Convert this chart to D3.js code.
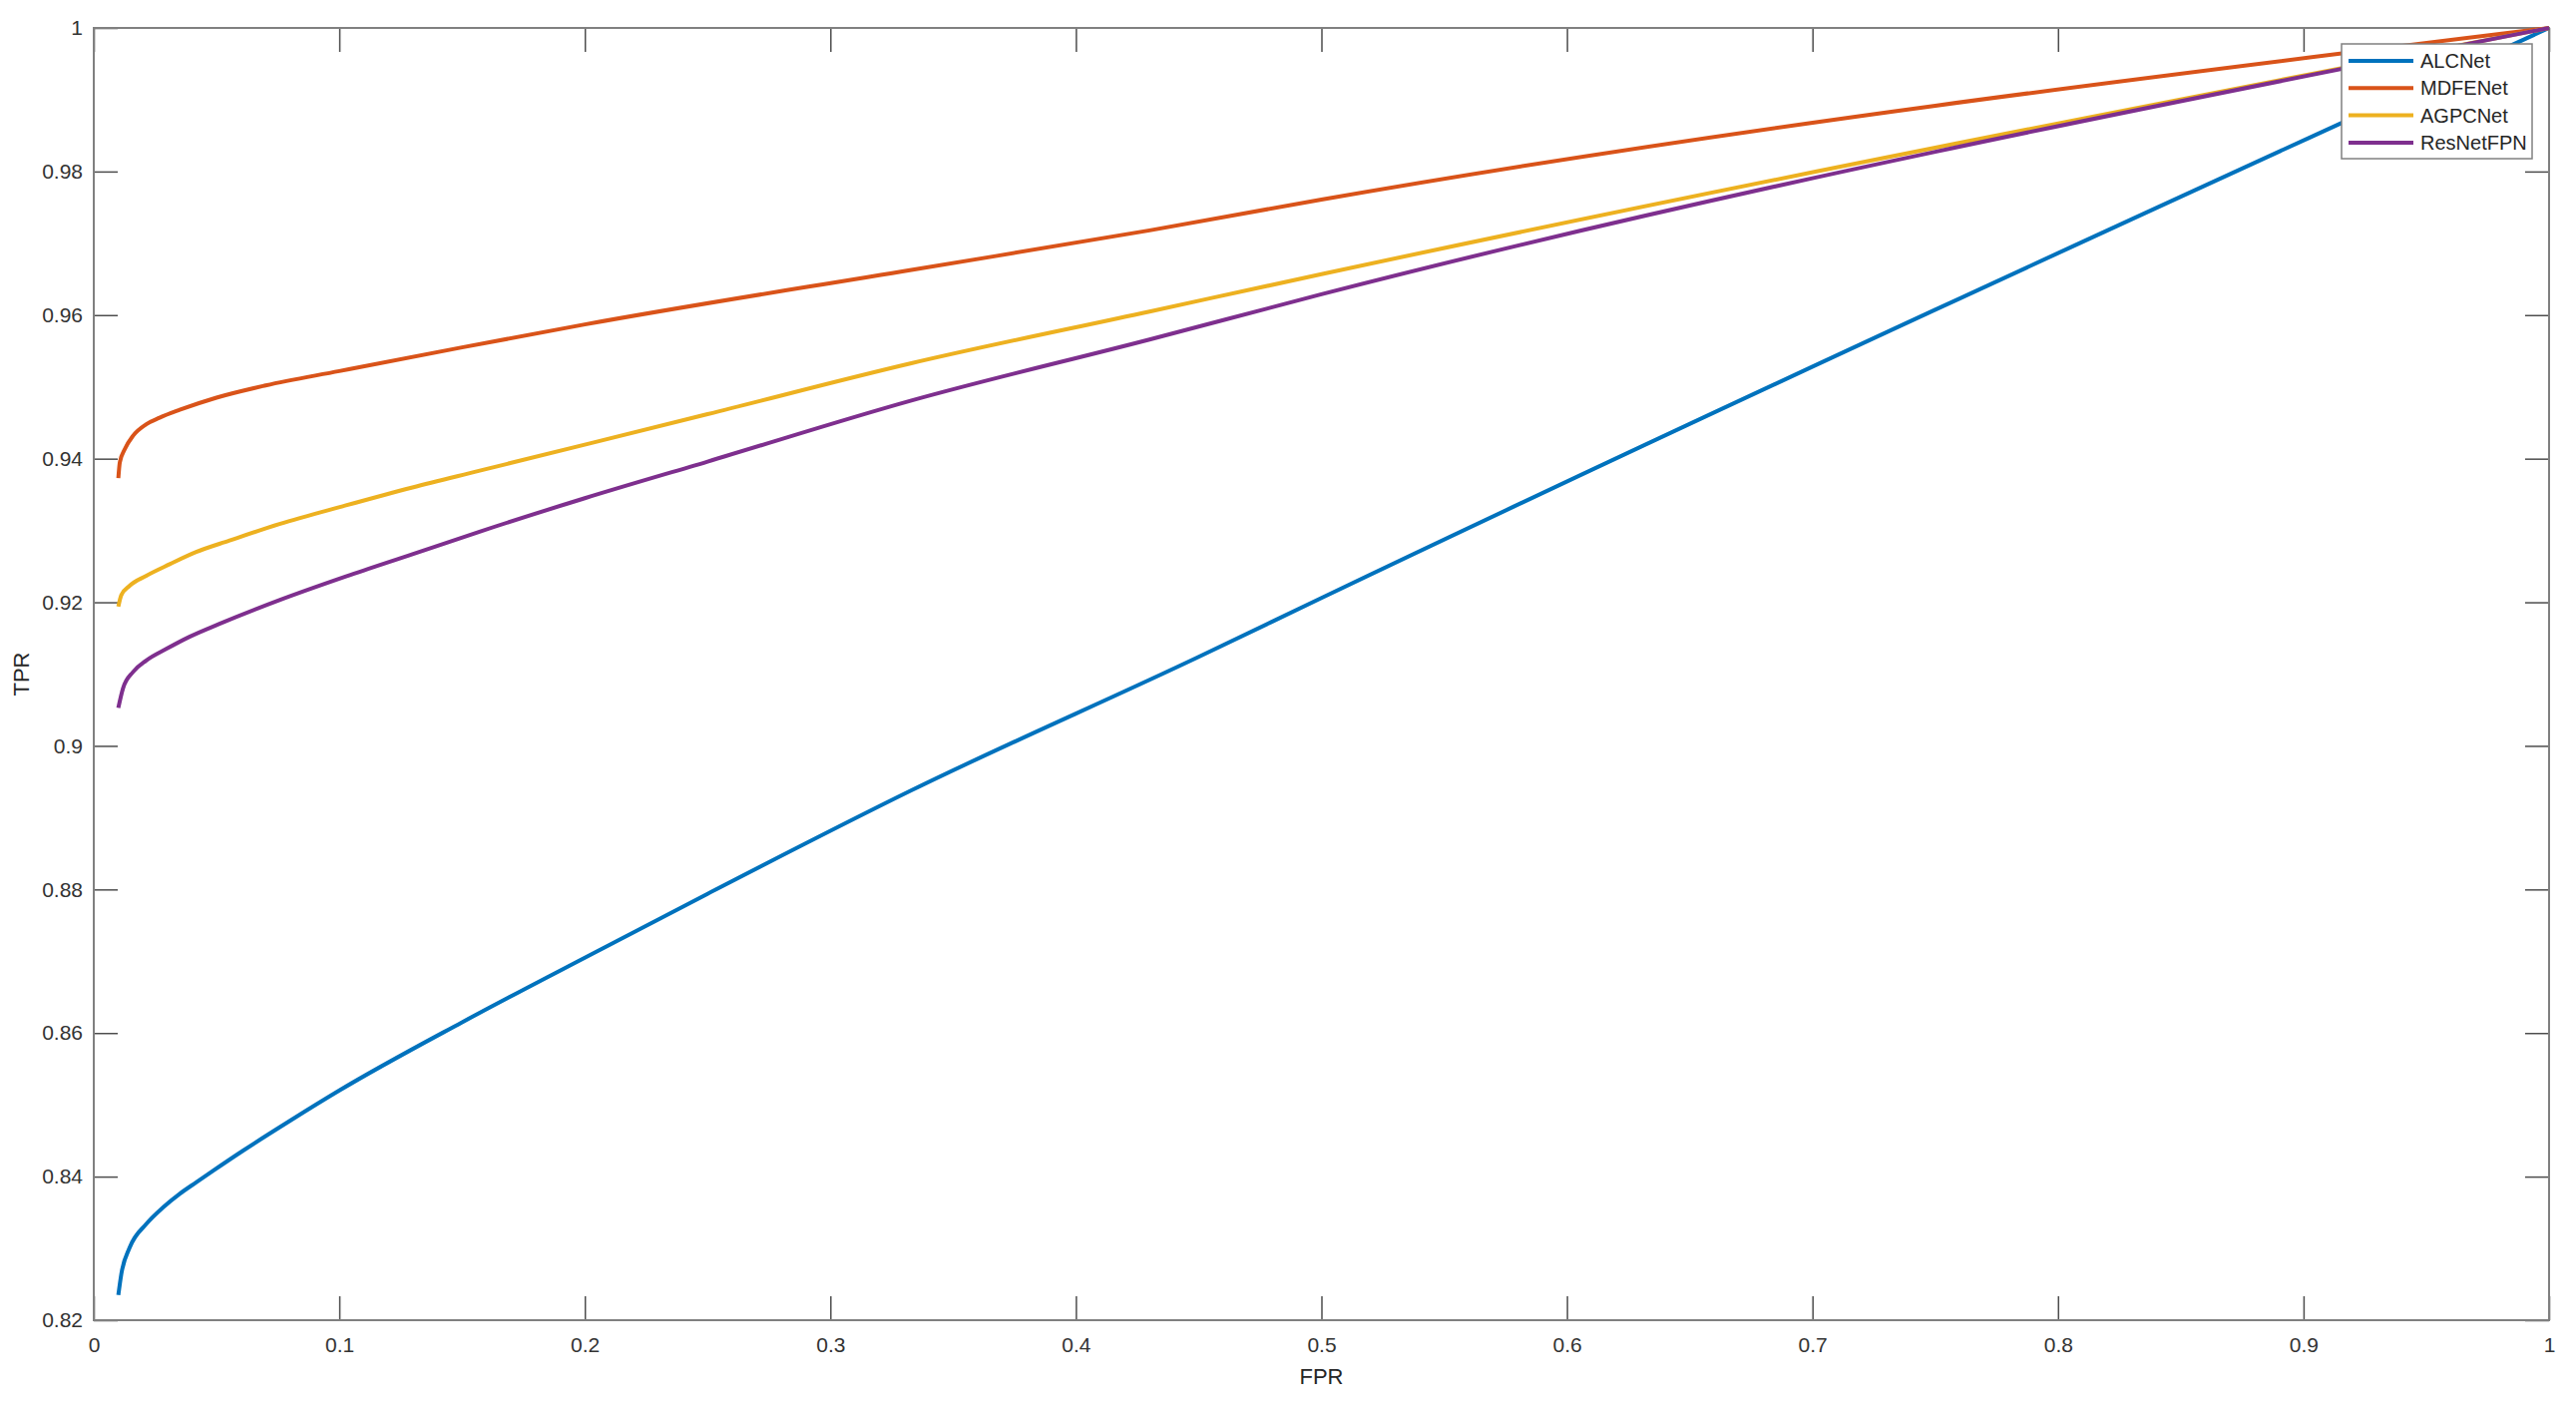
<!DOCTYPE html>
<html>
<head>
<meta charset="utf-8">
<script src="https://cdn.jsdelivr.net/npm/d3@7/dist/d3.min.js"></script>
<style>
  body { margin: 0; background: #fff; }
  text { font-family: "Liberation Sans", Arial, Helvetica, sans-serif; }
</style>
</head>
<body>
<div id="roc_plot"></div>
<script>
// series
var seriesNames = ["ALCNet", "MDFENet", "AGPCNet", "ResNetFPN"];

var alcFpr = [0.01, 0.0112, 0.0146, 0.0214, 0.0282, 0.035, 0.0417, 0.0485, 0.0607, 0.08, 0.1, 0.15, 0.2, 0.25, 0.333, 0.45, 0.5, 1];
var alcTpr = [0.8235, 0.8264, 0.8301, 0.8334, 0.8357, 0.8376, 0.8392, 0.8408, 0.8436, 0.8478, 0.852, 0.8615, 0.8705, 0.8794, 0.8938, 0.9124, 0.9206, 1];

var mdfFpr = [0.01, 0.0106, 0.0126, 0.016, 0.0214, 0.0268, 0.035, 0.05, 0.07, 0.1, 0.15, 0.2, 0.333, 0.43, 0.5, 1];
var mdfTpr = [0.9373, 0.9395, 0.9413, 0.9432, 0.9448, 0.9457, 0.9468, 0.9485, 0.9502, 0.9522, 0.9555, 0.9587, 0.9663, 0.9718, 0.9761, 1];

var agpFpr = [0.01, 0.0112, 0.0146, 0.0214, 0.0309, 0.0417, 0.0553, 0.0756, 0.1027, 0.1298, 0.1568, 0.25, 0.333, 0.43, 0.5, 1];
var agpTpr = [0.9194, 0.921, 0.9223, 0.9237, 0.9253, 0.927, 0.9286, 0.9309, 0.9335, 0.936, 0.9383, 0.9462, 0.9533, 0.9605, 0.9657, 1];

var resFpr = [0.01, 0.0119, 0.016, 0.0214, 0.0295, 0.039, 0.0512, 0.0756, 0.1027, 0.1298, 0.1568, 0.2, 0.25, 0.333, 0.43, 0.5, 1];
var resTpr = [0.9053, 0.908, 0.9103, 0.9119, 0.9135, 0.9152, 0.917, 0.9203, 0.9236, 0.9267, 0.9298, 0.9345, 0.9396, 0.9481, 0.9566, 0.9629, 1];

var xTicks = [0, 0.1, 0.2, 0.3, 0.4, 0.5, 0.6, 0.7, 0.8, 0.9, 1];
var yTicks = [0.82, 0.84, 0.86, 0.88, 0.9, 0.92, 0.94, 0.96, 0.98, 1];

var fprList = [alcFpr, mdfFpr, agpFpr, resFpr];
var tprList = [alcTpr, mdfTpr, agpTpr, resTpr];
var colors = ["#0072BD", "#D95319", "#EDB120", "#7E2F8E"];

var svg_width = 2582;
var svg_height = 1417;
var margin = {top: 28, bottom: 94, left: 94, right: 27};
var width = svg_width - margin.left - margin.right;
var height = svg_height - margin.top - margin.bottom;

var svg = d3.select("#roc_plot")
    .append("svg")
    .attr("width", svg_width)
    .attr("height", svg_height);

var chartGroup = svg.append("g")
    .attr("transform", `translate(${margin.left}, ${margin.top})`);

var x_scale = d3.scaleLinear().domain([0, 1]).range([0, width]);
var y_scale = d3.scaleLinear().domain([0.82, 1]).range([height, 0]);

var tickLen = 24;
var fmt = d3.format("");

function styleAxis(g) {
    g.select(".domain").remove();
    g.selectAll(".tick line").attr("stroke", "#4d4d4d").attr("stroke-width", 1.5);
    g.selectAll(".tick text").attr("fill", "#333").style("font-size", "21px");
}

chartGroup.append("g")
    .attr("transform", `translate(0,${height})`)
    .call(d3.axisBottom(x_scale).tickValues(xTicks).tickFormat(fmt)
        .tickSizeInner(-tickLen).tickSizeOuter(0).tickPadding(17))
    .call(styleAxis);

chartGroup.append("g")
    .call(d3.axisTop(x_scale).tickValues(xTicks).tickFormat("")
        .tickSizeInner(-tickLen).tickSizeOuter(0))
    .call(styleAxis);

chartGroup.append("g")
    .call(d3.axisLeft(y_scale).tickValues(yTicks).tickFormat(fmt)
        .tickSizeInner(-tickLen).tickSizeOuter(0).tickPadding(11))
    .call(styleAxis);

chartGroup.append("g")
    .attr("transform", `translate(${width},0)`)
    .call(d3.axisRight(y_scale).tickValues(yTicks).tickFormat("")
        .tickSizeInner(-tickLen).tickSizeOuter(0))
    .call(styleAxis);

// box
chartGroup.append("rect")
    .attr("x", 0).attr("y", 0)
    .attr("width", width).attr("height", height)
    .attr("fill", "none")
    .attr("stroke", "#808080")
    .attr("stroke-width", 2);

var line = d3.line()
    .x(d => x_scale(d[0]))
    .y(d => y_scale(d[1]))
    .curve(d3.curveMonotoneX);

seriesNames.forEach(function(name, i) {
    var pts = fprList[i].map((f, j) => [f, tprList[i][j]]);
    chartGroup.append("path")
        .datum(pts)
        .attr("d", line)
        .attr("fill", "none")
        .attr("stroke", colors[i])
        .attr("stroke-width", 4)
        .attr("stroke-linejoin", "round");
});

// axis titles
svg.append("text")
    .attr("x", margin.left + width / 2)
    .attr("y", 1387)
    .attr("text-anchor", "middle")
    .style("font-size", "22px")
    .attr("fill", "#262626")
    .text("FPR");

svg.append("text")
    .attr("transform", `translate(29, ${margin.top + height / 2}) rotate(-90)`)
    .attr("text-anchor", "middle")
    .style("font-size", "22px")
    .attr("fill", "#262626")
    .text("TPR");

// legend
var legend = svg.append("g").attr("transform", "translate(2347, 44)");
legend.append("rect")
    .attr("width", 191).attr("height", 115)
    .attr("fill", "#fff")
    .attr("stroke", "#808080")
    .attr("stroke-width", 1.5);

seriesNames.forEach(function(name, i) {
    var yy = 17 + i * 27.3;
    legend.append("line")
        .attr("x1", 7).attr("x2", 72)
        .attr("y1", yy).attr("y2", yy)
        .attr("stroke", colors[i])
        .attr("stroke-width", 4);
    legend.append("text")
        .attr("x", 79).attr("y", yy)
        .attr("dy", "0.35em")
        .style("font-size", "20px")
        .attr("fill", "#262626")
        .text(name);
});
</script>
</body>
</html>
